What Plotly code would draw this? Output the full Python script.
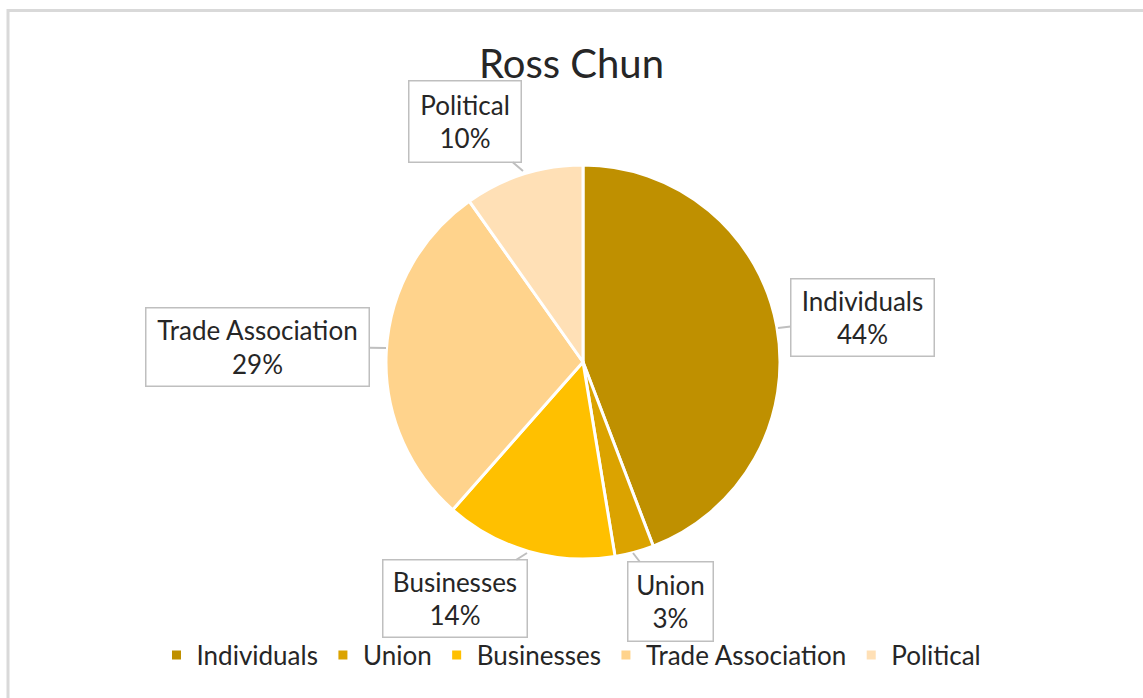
import plotly.graph_objects as go

W, H = 1143, 698

title = "Ross Chun"
categories = ["Individuals", "Union", "Businesses", "Trade Association", "Political"]
values = [44.2, 3.2, 14.1, 28.7, 9.8]
colors = ["#BF9000", "#DBA300", "#FFC000", "#FFD38C", "#FFE0B6"]

total = sum(values)
pcts = [round(v / total * 100) for v in values]

# callout layout (pixels): box left, top, right, bottom, tip x, tip y
callouts = {
    "Individuals": (790, 278, 935, 357, 778, 328),
    "Union": (627, 561, 714, 642, 633, 553),
    "Businesses": (382, 559, 528, 638, 527, 553),
    "Trade Association": (145, 307, 370, 387, 386, 348),
    "Political": (408, 80, 522, 163, 523, 171),
}

cx, cy, r = 583, 362, 197
fig = go.Figure(go.Pie(
    labels=categories, values=values, sort=False, direction="clockwise",
    rotation=0, textinfo="none", hoverinfo="label+percent",
    marker=dict(colors=colors, line=dict(color="white", width=3)),
    domain=dict(x=[(cx - r) / W, (cx + r) / W], y=[1 - (cy + r) / H, 1 - (cy - r) / H]),
))

font = "Lato, Carlito, Calibri, sans-serif"
annotations = []
for cat, p in zip(categories, pcts):
    l, t, rr, b, tx, ty = callouts[cat]
    bx, by = (l + rr) / 2, (t + b) / 2
    annotations.append(dict(
        xref="paper", yref="paper", x=tx / W, y=1 - ty / H,
        ax=bx - tx, ay=by - ty, axref="pixel", ayref="pixel",
        text=f"{cat}<br>{p}%", showarrow=True, arrowhead=0, arrowwidth=2,
        arrowcolor="#BFBFBF", standoff=0, startstandoff=0,
        bgcolor="white", bordercolor="#BFBFBF", borderwidth=1.5, borderpad=0,
        width=rr - l - 3, height=b - t - 3, align="center", valign="middle",
        font=dict(family=font, size=26, color="#262626"),
    ))

fig.update_layout(
    width=W, height=H, margin=dict(l=0, r=0, t=0, b=0),
    paper_bgcolor="white", plot_bgcolor="white",
    title=dict(text=title, x=0.5, xanchor="center", y=1 - 64 / H, yanchor="middle",
               font=dict(family=font, size=40, color="#262626")),
    showlegend=True,
    legend=dict(orientation="h", x=0.5, xanchor="center", y=1 - 655 / H, yanchor="middle",
                font=dict(family=font, size=26, color="#262626"), itemwidth=30,
                traceorder="normal"),
    annotations=annotations,
    shapes=[dict(type="rect", xref="paper", yref="paper", x0=8 / W, x1=1.05, y0=-0.05, y1=1 - 10.5 / H,
                 line=dict(color="#D9D9D9", width=3), fillcolor="rgba(0,0,0,0)", layer="below")],
)

fig.write_html("out.html", config={"displayModeBar": False},
               post_script="document.body.style.margin='0px';")
